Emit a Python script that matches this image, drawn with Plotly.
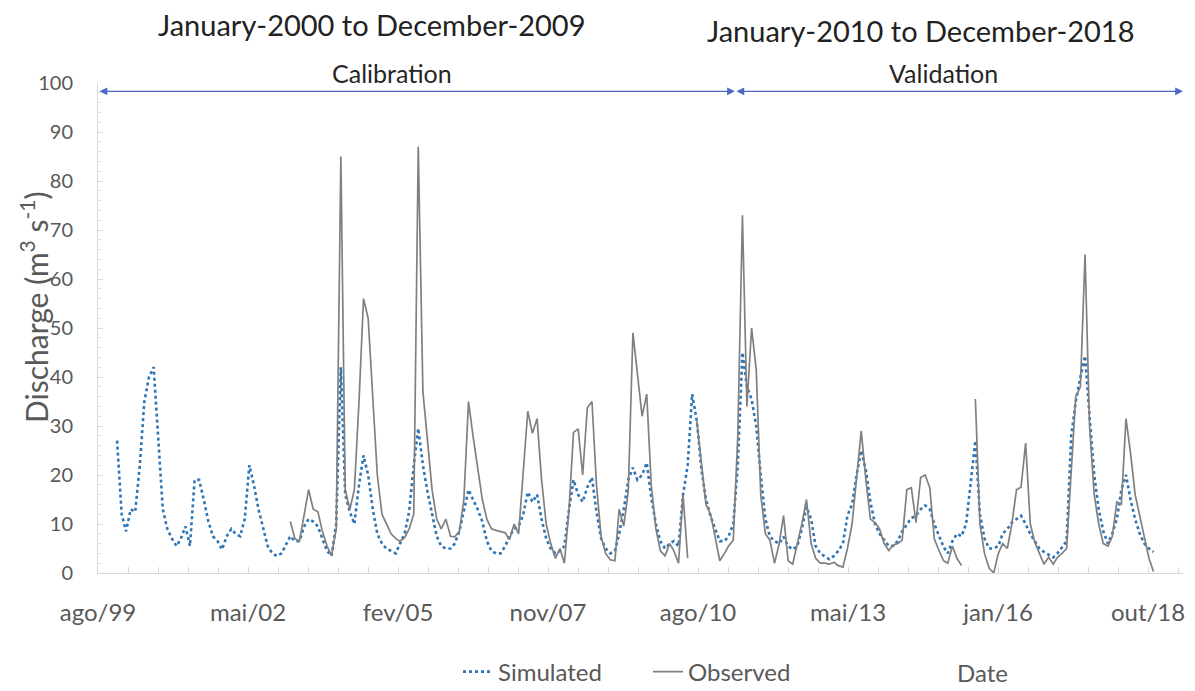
import pandas as pd
import plotly.graph_objects as go

# ---------------- data (monthly, Jan-2000 .. Dec-2018) ----------------
dates = pd.date_range("2000-01-01", "2018-12-01", freq="MS")

simulated = [
    # 2000
    27, 12, 8.5, 13, 12.5, 22, 35, 40, 42, 28, 13, 9,
    # 2001
    7, 5.5, 7, 9.5, 5.5, 19, 19, 15, 10.5, 7.5, 6.5, 4.8,
    # 2002
    7.5, 9, 8, 7.5, 11, 22, 18, 13, 9, 5.5, 4, 3.5,
    # 2003
    4, 6, 7.5, 6.5, 6.5, 9.5, 11, 10.5, 9.5, 7, 4.5, 3.5,
    # 2004
    10, 42, 16, 12.5, 10, 18, 24, 20, 13, 8, 6, 5,
    # 2005
    4.5, 4, 6, 8, 12.5, 22, 29.5, 22, 16.5, 12, 7.5, 5.5,
    # 2006
    5, 5, 6, 8.5, 13, 17, 15, 13, 10.5, 6.5, 4.5, 4,
    # 2007
    4, 5.5, 7.5, 9, 9.5, 12, 16.5, 14.5, 16, 11, 7, 5,
    # 2008
    4, 4.5, 5.5, 13, 19, 16, 14.5, 17.5, 19.5, 12.5, 7, 5,
    # 2009
    4, 4.5, 8, 13, 19, 21.5, 19, 20, 22.5, 15.5, 10, 6.5,
    # 2010
    5, 6, 6.5, 5.5, 16, 22, 36.5, 31, 21, 15, 11.5, 9,
    # 2011
    6.5, 6.5, 7.5, 10, 22, 45, 38, 35.5, 30, 20, 11, 7.5,
    # 2012
    6.5, 6, 7.4, 5.5, 4.8, 5.5, 9, 13.5, 11, 5.5, 4, 3.4,
    # 2013
    2.8, 3.5, 4.5, 6, 11.7, 14, 20, 25, 21, 14.5, 10, 8,
    # 2014
    6.7, 5.5, 5.5, 6.5, 8.5, 10, 11.2, 11.7, 13, 13.8, 13, 10,
    # 2015
    7.5, 5.3, 4, 6.5, 8, 7.5, 10, 18, 27, 12, 7, 5,
    # 2016
    5, 5.5, 8, 9, 10.3, 11, 11.7, 10, 8, 6.5, 5, 4.3,
    # 2017
    3.8, 3.2, 4, 5.3, 6.5, 28, 35, 40, 44.3, 32, 20, 13,
    # 2018
    8.5, 6, 8, 11, 17, 20, 15, 11, 8, 6, 5, 4.3,
]

N = None
observed = [
    # 2000
    N, N, N, N, N, N, N, N, N, N, N, N,
    # 2001
    N, N, N, N, N, N, N, N, N, N, N, N,
    # 2002
    N, N, N, N, N, N, N, N, N, N, N, N,
    # 2003
    N, N, 10.5, 7, 6.5, 12, 17, 13, 12.5, 8.5, 5.5, 3.5,
    # 2004
    9, 85, 17, 13, 17, 35, 56, 52, 36, 20, 12, 10,
    # 2005
    8, 7, 6.5, 7.2, 9, 12, 87, 37, 27, 17, 11, 9,
    # 2006
    11, 7.5, 7.4, 8.5, 15, 35, 28, 21, 15, 11, 9, 8.7,
    # 2007
    8.5, 8.2, 6.8, 10, 8, 20, 33, 28.5, 31.5, 19, 10, 6,
    # 2008
    3, 5, 2, 13, 28.7, 29.4, 20, 33.7, 35, 18, 7.4, 4,
    # 2009
    2.7, 2.5, 13, 9.6, 16.7, 49, 40, 32, 36.5, 18, 9, 4.5,
    # 2010
    3.5, 6, 4.5, 2, 16, 3, N, 31, 23, 14, 12, 7,
    # 2011
    2.5, 4, 5.5, 6.7, 28, 73, 34, 50, 41.5, 16, 8, 6.7,
    # 2012
    2, 6, 11.7, 2.5, 1.8, 6, 10, 15, 6, 3, 2, 2,
    # 2013
    1.8, 2.2, 1.5, 1.2, 5, 10, 20, 29, 19, 11, 10.3, 9,
    # 2014
    6, 4.6, 5.7, 6, 6.7, 17, 17.4, 10.3, 19.5, 20, 17.4, 7,
    # 2015
    4.6, 2.5, 2, 5.5, 3, 1.5, N, N, 35.5, 10, 4, 1,
    # 2016
    0, 4, 6, 5, 10, 17, 17.5, 26.5, 10, 6.3, 4, 1.8,
    # 2017
    3.2, 1.8, 3.2, 4, 5, 22, 36, 38, 65, 30, 16, 10,
    # 2018
    6, 5.5, 7.4, 14.5, 14, 31.5, 24.5, 16, 11.5, 7, 3, 0.3,
]

tick_labels = ["ago/99", "mai/02", "fev/05", "nov/07", "ago/10", "mai/13", "jan/16", "out/18"]
y_ticks = [0, 10, 20, 30, 40, 50, 60, 70, 80, 90, 100]

axis_start = pd.Timestamp("1999-08-27")
axis_span_days = 7233
axis_end = axis_start + pd.Timedelta(days=axis_span_days)
tick_step_days = 1000
tick_vals = [axis_start + pd.Timedelta(days=tick_step_days * i) for i in range(len(tick_labels))]
split_date = pd.Timestamp("2011-04-12")
arrow_level = 98.3

FONT = "Lato, Carlito, Calibri, sans-serif"
GREY_TXT = "#595959"
AXIS_COL = "#d9d9d9"

# figure geometry (pixels); the page body adds an 8 px offset
OFF = 8
W, H = 1195 - OFF, 691 - OFF
ML, MR, MT, MB = 98 - OFF, 12, 83 - OFF, 118
PW, PH = W - ML - MR, H - MT - MB


def px(xr):
    return (xr - OFF - ML) / PW


def py(yr):
    return (H - MB - (yr - OFF)) / PH


fig = go.Figure()
fig.add_trace(go.Scatter(
    x=dates, y=simulated, name="Simulated", mode="lines",
    line=dict(color="#2e75b6", width=2.6, dash="dot"),
))
fig.add_trace(go.Scatter(
    x=dates, y=observed, name="Observed", mode="lines",
    line=dict(color="#808080", width=1.7),
    connectgaps=False,
))

fig.update_layout(
    width=W, height=H,
    margin=dict(l=ML, r=MR, t=MT, b=MB, autoexpand=False),
    paper_bgcolor="white", plot_bgcolor="white",
    font=dict(family=FONT, size=20, color=GREY_TXT),
    showlegend=True,
    legend=dict(
        orientation="h", x=px(458), xanchor="left", y=py(672), yanchor="middle",
        font=dict(size=24, color=GREY_TXT), traceorder="normal",
        itemwidth=30, tracegroupgap=0, entrywidth=145, entrywidthmode="pixels",
    ),
)

fig.update_xaxes(
    type="date", range=[axis_start, axis_end], automargin=False,
    tickmode="array", tickvals=tick_vals, ticktext=tick_labels,
    showgrid=False, zeroline=False,
    showline=True, linecolor=AXIS_COL, linewidth=1,
    ticks="inside", ticklen=6, tickcolor=AXIS_COL,
    minor=dict(tickmode="linear", tick0=axis_start, dtick=200 * 86400000,
               ticks="inside", ticklen=6, tickcolor=AXIS_COL),
    tickfont=dict(size=24, color=GREY_TXT),
    ticklabelstandoff=18,
)
fig.update_yaxes(
    range=[0, 100], tickmode="array", tickvals=y_ticks, automargin=False,
    showgrid=False, zeroline=False,
    showline=True, linecolor=AXIS_COL, linewidth=1,
    ticks="inside", ticklen=5, tickcolor=AXIS_COL,
    minor=dict(dtick=2, ticks="inside", ticklen=3, tickcolor=AXIS_COL),
    tickfont=dict(size=20, color=GREY_TXT),
    ticklabelstandoff=20,
)

# y-axis title (placed like the reference, slightly above centre)
fig.add_annotation(x=px(34), y=py(308), xref="paper", yref="paper",
                   xanchor="center", yanchor="middle", textangle=-90,
                   text="Discharge (m<sup>3</sup> s<sup>-1</sup>)", showarrow=False,
                   font=dict(size=30, color=GREY_TXT, family=FONT))

# period arrows
fig.add_annotation(x=split_date, y=arrow_level, ax=axis_start, ay=arrow_level,
                   xref="x", yref="y", axref="x", ayref="y", text="",
                   showarrow=True, arrowside="end+start", arrowhead=2,
                   arrowsize=1.3, arrowwidth=1.2, arrowcolor="#4a67c2")
fig.add_annotation(x=axis_end, y=arrow_level, ax=split_date, ay=arrow_level,
                   xref="x", yref="y", axref="x", ayref="y", text="",
                   showarrow=True, arrowside="end+start", arrowhead=2,
                   arrowsize=1.3, arrowwidth=1.2, arrowcolor="#4a67c2")

fig.add_annotation(x=px(392), y=py(73), xref="paper", yref="paper",
                   xanchor="center", yanchor="middle",
                   text="Calibration", showarrow=False,
                   font=dict(size=25, color="#262626", family=FONT))
fig.add_annotation(x=px(943), y=py(73), xref="paper", yref="paper",
                   xanchor="center", yanchor="middle",
                   text="Validation", showarrow=False,
                   font=dict(size=25, color="#262626", family=FONT))

fig.add_annotation(x=px(372), y=py(25), xref="paper", yref="paper",
                   xanchor="center", yanchor="middle",
                   text="January-2000 to December-2009", showarrow=False,
                   font=dict(size=29, color="#222222", family=FONT))
fig.add_annotation(x=px(921), y=py(30), xref="paper", yref="paper",
                   xanchor="center", yanchor="middle",
                   text="January-2010 to December-2018", showarrow=False,
                   font=dict(size=29, color="#222222", family=FONT))
fig.add_annotation(x=px(982), y=py(672), xref="paper", yref="paper",
                   xanchor="center", yanchor="middle",
                   text="Date", showarrow=False,
                   font=dict(size=24, color=GREY_TXT, family=FONT))

fig.write_html("out.html")
